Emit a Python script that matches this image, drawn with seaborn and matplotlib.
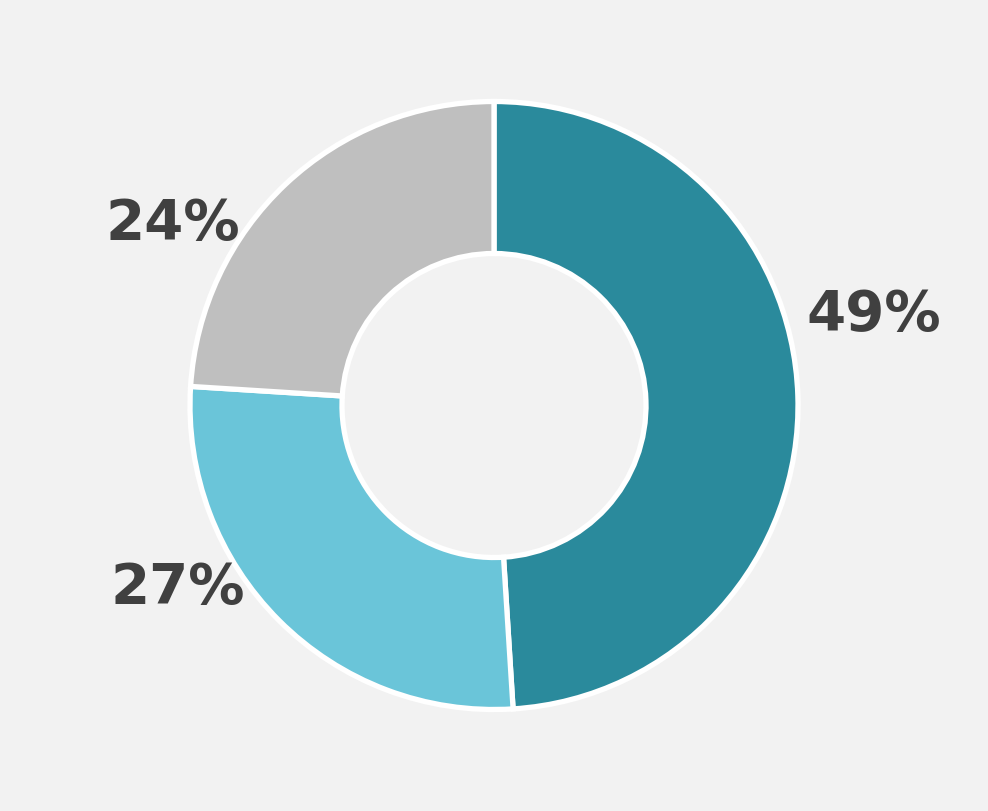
import matplotlib
matplotlib.use("Agg")
import seaborn as sns
from matplotlib import pyplot as plt

# data
categories = ["A", "B", "C"]
shares = [49, 27, 24]
colors = ["#2a8a9c", "#6ac5d9", "#bfbfbf"]

# where each percentage label sits (pie radius = 1)
label_xy = [(1.25, 0.298), (-1.04, -0.60), (-1.058, 0.596)]

sns.set_style("white")
plt.rcParams["font.family"] = ["DejaVu Sans"]

bg = "#f2f2f2"
fig = plt.figure(figsize=(9.88, 8.11), dpi=100, facecolor=bg)
ax = fig.add_axes([0, 0, 1, 1], facecolor=bg)

radius_px = 304
half_w = 988 / 2 / radius_px
half_h = 811 / 2 / radius_px

ax.pie(
    shares,
    colors=colors,
    startangle=90,
    counterclock=False,
    radius=1.0,
    center=(0, 0.0),
    wedgeprops=dict(width=0.5, edgecolor="white", linewidth=3.8),
)

for (x, y), v in zip(label_xy, shares):
    ax.text(x, y, f"{v}%", ha="center", va="center", fontsize=40.5,
            fontweight="bold", color="#404040")

ax.set_xlim(-half_w, half_w)
ax.set_ylim(-half_h, half_h)
ax.set_aspect("auto")
ax.axis("off")

fig.savefig("out.png", dpi=100, facecolor=bg)
